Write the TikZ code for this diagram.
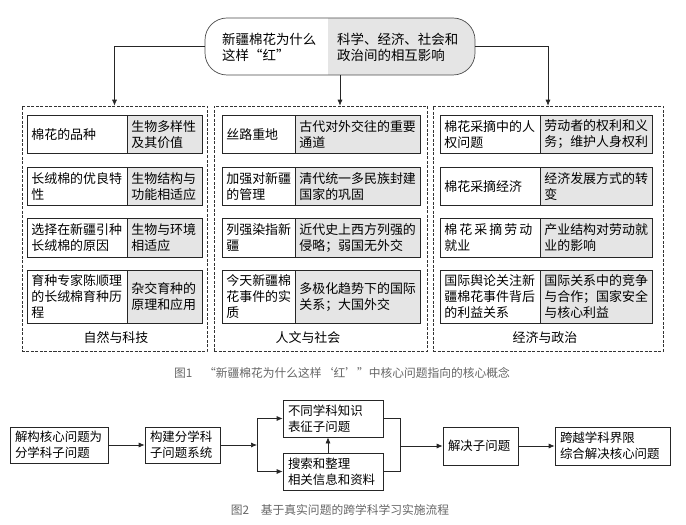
\documentclass[tikz,border=0pt]{standalone}
\usepackage{fontspec}
\setmainfont{Noto Sans CJK SC}
\usetikzlibrary{arrows.meta}
\tikzset{
  ln/.style={line width=0.7bp, draw=black!85},
  arr/.style={ln, -{Latex[length=6bp,width=5bp]}},
  cell/.style={ln, draw, anchor=north west, align=left, inner xsep=4bp, inner ysep=1bp, font=\fontsize{13}{16}\selectfont},
  graycell/.style={cell, fill=gray!20},
  panel/.style={draw=black!80, line width=0.6bp, dash pattern=on 3bp off 1.5bp, inner sep=0pt},
  lab/.style={font=\fontsize{13}{16}\selectfont, inner sep=1bp},
  corebox/.style={line width=0.7bp, draw=black!70, rounded corners=22bp, minimum width=270bp, minimum height=57bp, inner sep=0pt},
  coretxt/.style={anchor=west, align=left, inner sep=5bp, font=\fontsize{13.5}{16}\selectfont},
  fbox/.style={ln, draw, align=left, inner xsep=5bp, inner ysep=1bp, font=\fontsize{12.5}{16}\selectfont},
  capt/.style={text=black!60, font=\fontsize{11.8}{14}\selectfont, inner sep=1bp}
}
\newcommand\rowpair[8]{%
  \pgfmathsetmacro\wA{#3-#2-8}\pgfmathsetmacro\wB{#4-#3-8}%
  \node[cell, text width=\wA bp, minimum height=#6 bp] (#1a) at (#2,#5) {#7};
  \node[graycell, text width=\wB bp, minimum height=#6 bp] (#1b) at (#3,#5) {#8};
}
\begin{document}
\begin{tikzpicture}[x=1bp,y=-1bp]
\fill[white] (0,0) rectangle (686,525);
\useasboundingbox (0,0) rectangle (686,525);

% ---------- Figure 1 ----------
\begin{scope}
  \clip[rounded corners=22bp] (205,18) rectangle (475,75);
  \fill[gray!20] (328,18) rectangle (475,75);
\end{scope}
\node[corebox] (core) at (340,46.5) {};
\node[coretxt] (coreL) at (217,47) {新疆棉花为什么\\这样“红”};
\node[coretxt] (coreR) at (332,47) {科学、经济、社会和\\政治间的相互影响};

\node[panel, minimum width=185bp, minimum height=245bp] (p1) at (114.5,228.5) {};
\node[panel, minimum width=213bp, minimum height=245bp] (p2) at (320.5,228.5) {};
\node[panel, minimum width=230bp, minimum height=245bp] (p3) at (548,228.5) {};

\draw[arr] (core.west) -| (p1.north);
\draw[arr] (core.south) -- (core.south |- p2.north);
\draw[arr] (core.east) -| (p3.north);

% left panel
\rowpair{n1}{27}{127}{202}{115}{38}{棉花的品种}{生物多样性\\及其价值}
\rowpair{n2}{27}{127}{202}{167}{38}{长绒棉的优良特\\性}{生物结构与\\功能相适应}
\rowpair{n3}{27}{127}{202}{218}{39}{选择在新疆引种\\长绒棉的原因}{生物与环境\\相适应}
\rowpair{n4}{27}{127}{202}{270}{53}{育种专家陈顺理\\的长绒棉育种历\\程}{杂交育种的\\原理和应用}
\node[lab] (l1) at (116,338) {自然与科技};

% middle panel
\rowpair{m1}{222}{295}{420}{115}{38}{丝路重地}{古代对外交往的重要\\通道}
\rowpair{m2}{222}{295}{420}{167}{38}{加强对新疆\\的管理}{清代统一多民族封建\\国家的巩固}
\rowpair{m3}{222}{295}{420}{218}{39}{列强染指新\\疆}{近代史上西方列强的\\侵略；弱国无外交}
\rowpair{m4}{222}{295}{420}{270}{53}{今天新疆棉\\花事件的实\\质}{多极化趋势下的国际\\关系；大国外交}
\node[lab] (l2) at (308,338) {人文与社会};

% right panel
\rowpair{r1}{440}{540}{652}{115}{38}{棉花采摘中的人\\权问题}{劳动者的权利和义\\务；维护人身权利}
\rowpair{r2}{440}{540}{652}{167}{38}{棉花采摘经济}{经济发展方式的转\\变}
\rowpair{r3}{440}{540}{652}{218}{39}{\hbox to 88bp{棉\hfil 花\hfil 采\hfil 摘\hfil 劳\hfil 动}\\就业}{产业结构对劳动就\\业的影响}
\rowpair{r4}{440}{540}{652}{270}{53}{国际舆论关注新\\疆棉花事件背后\\的利益关系}{国际关系中的竞争\\与合作；国家安全\\与核心利益}
\node[lab] (l3) at (545,338) {经济与政治};

\node[capt] (cap1) at (342,373) {图1\quad “新疆棉花为什么这样‘红’”中核心问题指向的核心概念};

% ---------- Figure 2 ----------
\node[fbox, text width=88bp, minimum height=36bp] (b1) at (59,445) {解构核心问题为\\分学科子问题};
\node[fbox, text width=65bp, minimum height=36bp] (b2) at (182.5,445) {构建分学科\\子问题系统};
\node[fbox, text width=90bp, minimum height=37bp] (b3) at (333,418.5) {不同学科知识\\表征子问题};
\node[fbox, text width=90bp, minimum height=37bp] (b4) at (333,471.5) {搜索和整理\\相关信息和资料};
\node[fbox, text width=65bp, minimum height=38bp] (b5) at (480.5,446) {解决子问题};
\node[fbox, text width=105bp, minimum height=38bp] (b6) at (612.5,446) {跨越学科界限\\综合解决核心问题};
\coordinate (br) at (257,445);
\coordinate (mg) at (400,446);

\draw[arr] (b1.east) -- (b2.west);
\draw[arr] (b2.east) -- (br);
\draw[arr] (br) |- (b3.west);
\draw[arr] (br) |- (b4.west);
\draw[arr] ([xshift=-5bp]b4.north) -- ([xshift=-5bp]b3.south);
\draw[ln] (b3.east) -| (mg);
\draw[ln] (b4.east) -| (mg);
\draw[arr] (mg) -- (b5.west);
\draw[arr] (b5.east) -- (b6.west);

\node[capt] (cap2) at (340,510) {图2\quad 基于真实问题的跨学科学习实施流程};
\end{tikzpicture}
\end{document}
